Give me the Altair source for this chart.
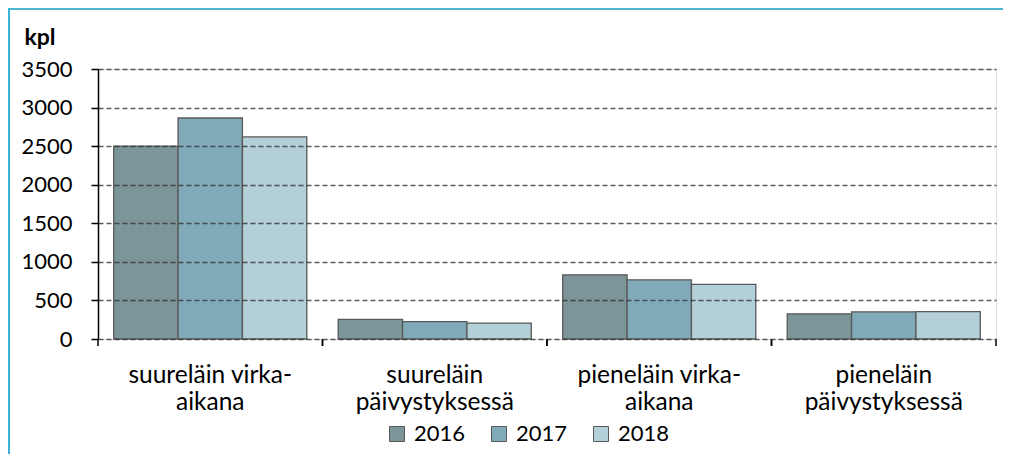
import altair as alt
import pandas as pd

categories = ["suureläin virka-|aikana", "suureläin|päivystyksessä",
              "pieneläin virka-|aikana", "pieneläin|päivystyksessä"]
years = ["2016", "2017", "2018"]
v2016 = [2500, 254, 832, 326]
v2017 = [2865, 225, 767, 352]
v2018 = [2620, 207, 707, 356]
y_ticks = [0, 500, 1000, 1500, 2000, 2500, 3000, 3500]
colors = ["#7b9598", "#80aab8", "#b3cfd7"]

rows = []
for i, c in enumerate(categories):
    for y, vals in zip(years, [v2016, v2017, v2018]):
        rows.append({"cat": c, "year": y, "value": vals[i]})
df = pd.DataFrame(rows)
cat_df = pd.DataFrame({"cat": categories})
one = pd.DataFrame({"a": [0]})

FONT = "Lato"
xscale = alt.Scale(domain=categories, paddingInner=0, paddingOuter=0)

bars = alt.Chart(df).mark_bar(stroke="#595959", strokeWidth=1.3).encode(
    x=alt.X("cat:N", scale=xscale, sort=categories,
            axis=alt.Axis(title=None, labels=False, ticks=False,
                          domainColor="black", domainWidth=2, zindex=2)),
    xOffset=alt.XOffset("year:N", sort=years,
                        scale=alt.Scale(paddingInner=0, paddingOuter=0.244)),
    y=alt.Y("value:Q", scale=alt.Scale(domain=[0, 3500], nice=False),
            axis=alt.Axis(values=y_ticks, format="d", title="kpl", titleAngle=0,
                          titleX=-74, titleY=-25, titleAlign="left",
                          titleBaseline="alphabetic", titleFontSize=23,
                          titleFontWeight="bold", titleFont=FONT,
                          titleColor="black", labelFont=FONT,
                          labelFontSize=22, labelColor="black",
                          labelPadding=19, tickSize=7, tickColor="black",
                          tickWidth=1.5, domainColor="black", domainWidth=1.5,
                          grid=True, gridDash=[5, 3], gridColor="#333333",
                          gridOpacity=0.8, gridWidth=1.3, zindex=1)),
    color=alt.Color("year:N", scale=alt.Scale(domain=years, range=colors),
                    legend=alt.Legend(orient="none", legendX=288, legendY=354,
                                      direction="horizontal", title=None,
                                      symbolType="square", symbolSize=225,
                                      symbolStrokeColor="#595959",
                                      symbolStrokeWidth=1, labelFont=FONT,
                                      labelFontSize=22, labelColor="black",
                                      columnPadding=22, labelOffset=6,
                                      padding=0, symbolOpacity=1)),
)

cat_labels = alt.Chart(cat_df).mark_text(
    lineBreak="|", baseline="top", align="center", fontSize=24.5,
    lineHeight=27, font=FONT, color="black").encode(
    x=alt.X("cat:N", scale=xscale, sort=categories, axis=None),
    y=alt.value(295), text="cat:N")

tick_start = alt.Chart(cat_df).mark_rule(color="black", strokeWidth=1.5).encode(
    x=alt.X("cat:N", scale=xscale, sort=categories, bandPosition=0, axis=None),
    y=alt.value(270), y2=alt.value(277))
tick_end = alt.Chart(cat_df).mark_rule(color="black", strokeWidth=1.5).encode(
    x=alt.X("cat:N", scale=xscale, sort=categories, bandPosition=1, axis=None),
    y=alt.value(270), y2=alt.value(277))

frame_top = alt.Chart(one).mark_rule(color="#4db6d0", strokeWidth=2).encode(
    x=alt.value(-90), x2=alt.value(905), y=alt.value(-60))
frame_left = alt.Chart(one).mark_rule(color="#3cb4d8", strokeWidth=2).encode(
    x=alt.value(-89), y=alt.value(-61), y2=alt.value(385))

chart = alt.layer(bars, cat_labels, tick_start, tick_end, frame_top, frame_left).properties(
    width=898, height=270,
    autosize=alt.AutoSizeParams(type="none"),
    padding={"left": 90, "top": 61, "right": 9, "bottom": 115},
).configure_view(stroke=None).configure(background="white")

chart.save("out.html", embed_options={"renderer": "svg", "actions": False})
